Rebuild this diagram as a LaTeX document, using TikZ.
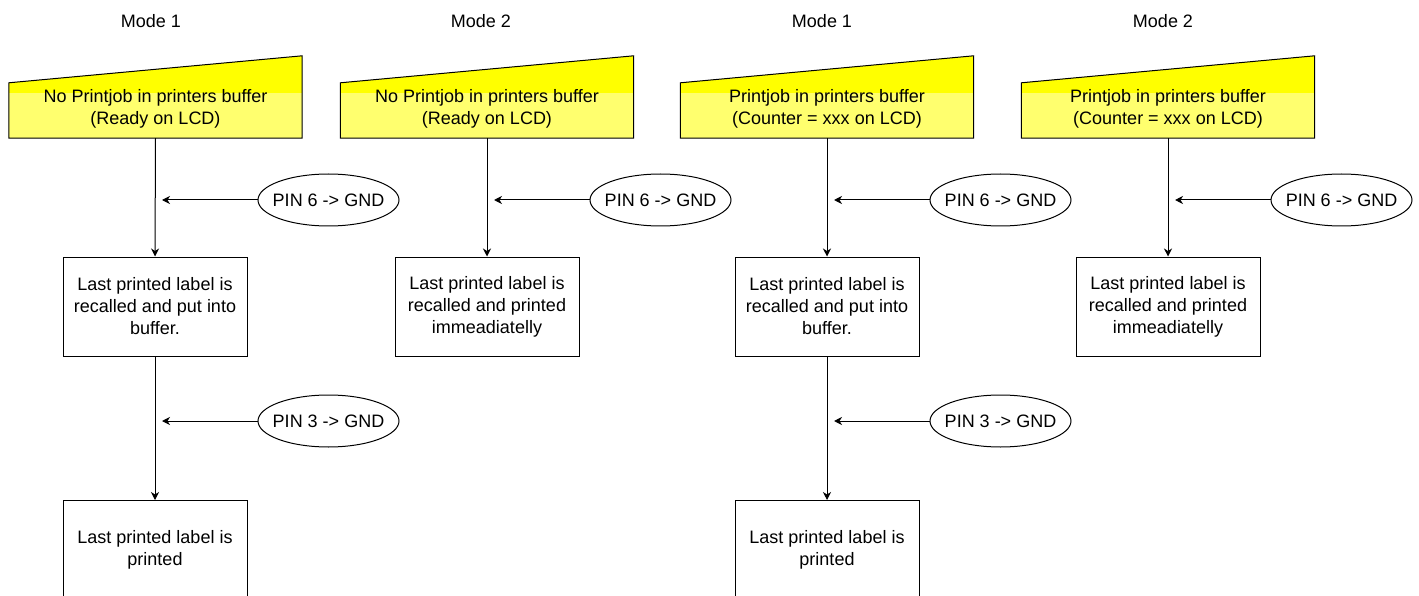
\documentclass[tikz,border=0pt]{standalone}
\usepackage{fontspec}
\setmainfont{Liberation Sans}
\usetikzlibrary{arrows.meta,shapes.geometric,calc}
\definecolor{topyellow}{RGB}{255,255,0}
\definecolor{lowyellow}{RGB}{255,255,110}
\tikzset{
  every node/.style={font=\fontsize{18}{22}\selectfont},
  lbl/.style={inner sep=0pt},
  trap/.style={minimum width=293pt,minimum height=55pt,inner sep=0pt,align=center},
  stepbox/.style={draw,line width=1pt,minimum width=184pt,minimum height=99pt,inner sep=0pt,align=center},
  pin/.style={draw,line width=1pt,ellipse,minimum width=141pt,minimum height=52pt,inner xsep=-8pt,inner ysep=0pt},
  conn/.style={line width=1pt,-{Stealth[length=8pt,width=8pt,inset=2.5pt]}},
}
\newcommand{\trapshape}[1]{%
  \fill[topyellow] (#1.south west) -- (#1.south east) -- ($(#1.north east)+(0,-27)$) -- (#1.north west) -- cycle;
  \fill[lowyellow] ($(#1.north west)+(0,10)$) rectangle (#1.south east);
  \draw[line width=1pt,line join=miter] (#1.south west) -- (#1.south east) -- ($(#1.north east)+(0,-27)$) -- (#1.north west) -- cycle;
}
\begin{document}
\begin{tikzpicture}[x=1pt,y=-1pt]
\useasboundingbox (0,0) rectangle (1419,596);

% Mode labels
\node[lbl] (m1) at (151,21) {Mode 1};
\node[lbl] (m2) at (481,21) {Mode 2};
\node[lbl] (m3) at (822,21) {Mode 1};
\node[lbl] (m4) at (1163,21) {Mode 2};

% Trapezoid nodes (text area)
\node[trap] (t1) at (155.5,110.5) {};
\node[trap] (t2) at (487,110.5) {};
\node[trap] (t3) at (827,110.5) {};
\node[trap] (t4) at (1168,110.5) {};
\trapshape{t1}
\trapshape{t2}
\trapshape{t3}
\trapshape{t4}
\node[align=center,inner sep=0pt] (tt1) at (155.5,108.5) {No Printjob in printers buffer\\(Ready on LCD)};
\node[align=center,inner sep=0pt] (tt2) at (487,108.5) {No Printjob in printers buffer\\(Ready on LCD)};
\node[align=center,inner sep=0pt] (tt3) at (827,108.5) {Printjob in printers buffer\\(Counter = xxx on LCD)};
\node[align=center,inner sep=0pt] (tt4) at (1168,108.5) {Printjob in printers buffer\\(Counter = xxx on LCD)};

% Middle boxes
\node[stepbox] (b1) at (155,306.5) {Last printed label is\\recalled and put into\\buffer.};
\node[stepbox] (b2) at (487,306.5) {Last printed label is\\recalled and printed\\immeadiatelly};
\node[stepbox] (b3) at (827,306.5) {Last printed label is\\recalled and put into\\buffer.};
\node[stepbox] (b4) at (1168,306.5) {Last printed label is\\recalled and printed\\immeadiatelly};

% Bottom boxes
\node[stepbox] (c1) at (155,550) {Last printed label is\\printed};
\node[stepbox] (c3) at (827,550) {Last printed label is\\printed};

% Ellipses
\node[pin] (p1) at (328.5,200) {PIN 6 -> GND};
\node[pin] (p2) at (660.5,200) {PIN 6 -> GND};
\node[pin] (p3) at (1000.5,200) {PIN 6 -> GND};
\node[pin] (p4) at (1341.5,200) {PIN 6 -> GND};
\node[pin] (q1) at (328.5,421) {PIN 3 -> GND};
\node[pin] (q3) at (1000.5,421) {PIN 3 -> GND};

% free ends of horizontal arrows
\coordinate (h1) at (162,200);
\coordinate (h2) at (494,200);
\coordinate (h3) at (834,200);
\coordinate (h4) at (1175,200);
\coordinate (k1) at (162,421);
\coordinate (k3) at (834,421);

% vertical connectors
\draw[conn] (t1.south) -- (b1.north);
\draw[conn] (t2.south) -- (b2.north);
\draw[conn] (t3.south) -- (b3.north);
\draw[conn] (t4.south) -- (b4.north);
\draw[conn] (b1.south) -- (c1.north);
\draw[conn] (b3.south) -- (c3.north);

% horizontal connectors
\draw[conn] (p1.west) -- (h1);
\draw[conn] (p2.west) -- (h2);
\draw[conn] (p3.west) -- (h3);
\draw[conn] (p4.west) -- (h4);
\draw[conn] (q1.west) -- (k1);
\draw[conn] (q3.west) -- (k3);
\end{tikzpicture}
\end{document}
